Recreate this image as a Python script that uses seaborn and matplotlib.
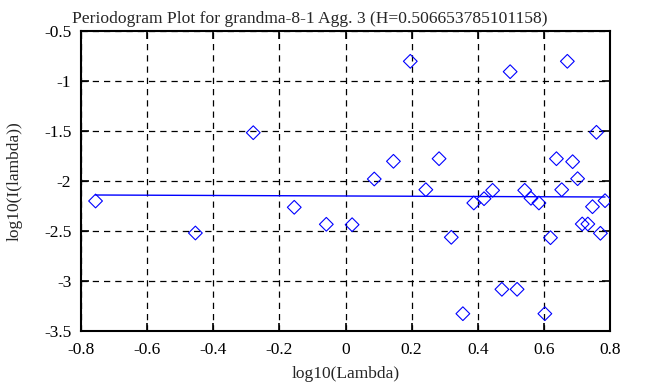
import matplotlib
matplotlib.use("Agg")
import matplotlib.pyplot as plt
import seaborn as sns
import pandas as pd
from matplotlib.ticker import FuncFormatter, FixedLocator

# Data
log_lambda = [-0.756, -0.454, -0.279, -0.155, -0.058, 0.020, 0.087, 0.145, 0.196,
              0.243, 0.283, 0.320, 0.355, 0.388, 0.419, 0.445, 0.473, 0.498, 0.519,
              0.542, 0.561, 0.585, 0.603, 0.620, 0.638, 0.654, 0.671, 0.687, 0.702,
              0.716, 0.733, 0.747, 0.759, 0.771, 0.785]
log_I = [-2.20, -2.52, -1.517, -2.263, -2.433, -2.437, -1.98, -1.803, -0.803,
         -2.087, -1.777, -2.563, -3.327, -2.22, -2.177, -2.093, -3.083, -0.907, -3.083,
         -2.093, -2.173, -2.22, -3.327, -2.567, -1.777, -2.087, -0.803, -1.807, -1.977,
         -2.43, -2.43, -2.257, -1.513, -2.523, -2.197]
fit_x = [-0.756, 0.785]
fit_y = [-2.140, -2.160]
x_ticks = [-0.8, -0.6, -0.4, -0.2, 0, 0.2, 0.4, 0.6, 0.8]
y_ticks = [-3.5, -3, -2.5, -2, -1.5, -1, -0.5]
title = "Periodogram Plot for grandma-8-1 Agg. 3 (H=0.506653785101158)"

sns.set_style("white")
plt.rcParams['font.family'] = ['Liberation Serif', 'DejaVu Serif']

fig = plt.figure(figsize=(6.58, 3.87), dpi=100)
ax = fig.add_axes([81/658, 1 - 331/387, (610 - 81)/658, 300/387])

df = pd.DataFrame({"x": log_lambda, "y": log_I})
sns.scatterplot(data=df, x="x", y="y", ax=ax, marker="D", s=49,
                facecolor="none", edgecolor="#0000ff", linewidth=0.8, zorder=3)
fit = pd.DataFrame({"x": fit_x, "y": fit_y})
sns.lineplot(data=fit, x="x", y="y", ax=ax, color="#0000ff", linewidth=1.0, zorder=4)

ax.set_xlim(-0.8, 0.8)
ax.set_ylim(-3.5, -0.5)
ax.xaxis.set_major_locator(FixedLocator(x_ticks))
ax.yaxis.set_major_locator(FixedLocator(y_ticks))
fmt = FuncFormatter(lambda v, p: "%g" % round(v, 2))
ax.xaxis.set_major_formatter(fmt)
ax.yaxis.set_major_formatter(fmt)

ax.grid(True, color="black", linestyle=(0, (5, 4)), linewidth=0.9)
for s in ax.spines.values():
    s.set_visible(True)
    s.set_color("black")
    s.set_linewidth(1.5)
ax.tick_params(direction="in", length=6, width=1.2, top=True, right=True,
               bottom=True, left=True, labelsize=12.5, colors="black")
ax.tick_params(axis="x", pad=8)
ax.tick_params(axis="y", pad=7)

ax.set_xlabel("log10(Lambda)", fontsize=12.5, labelpad=6)
ax.set_ylabel("log10(I(lambda))", fontsize=12.5, labelpad=15)
ax.set_title(title, fontsize=12.6, pad=6, x=(310 - 81) / 529)

fig.savefig("out.png", dpi=100)
